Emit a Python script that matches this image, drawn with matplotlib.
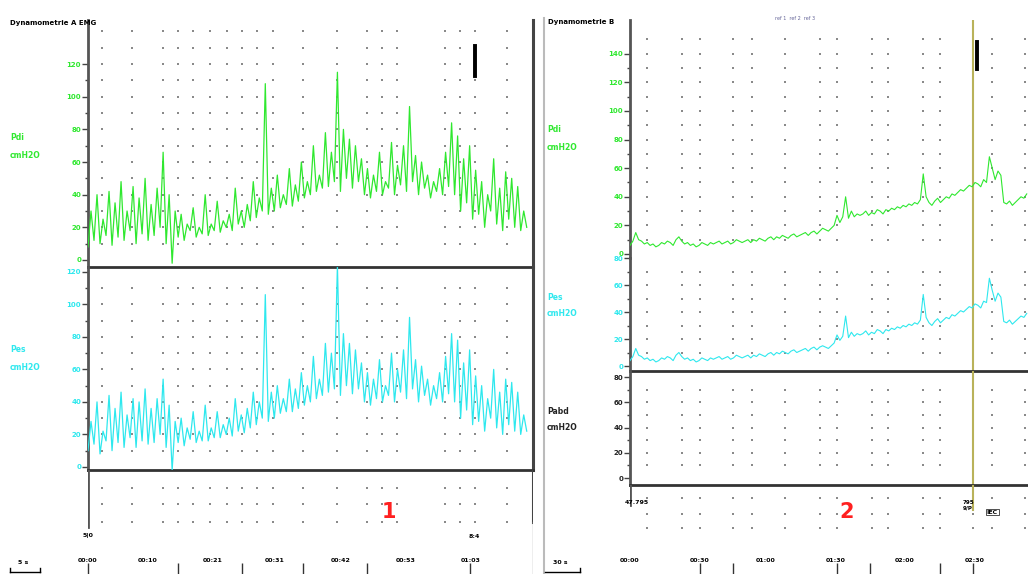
import numpy as np
import matplotlib
matplotlib.use("Agg")
import matplotlib.pyplot as plt
from matplotlib.lines import Line2D

W, H = 1028, 574

# ---- data ----
# left recording: 0.5 s samples
dt_left = 0.5
pdi_left = [8, 30, 12, 40, 10, 25, 15, 42, 9, 35,
            14, 48, 12, 30, 18, 45, 10, 38, 16, 50,
            12, 34, 15, 44, 20, 66, 10, 40, -2, 30,
            14, 28, 12, 22, 18, 32, 14, 20, 16, 40,
            15, 22, 18, 36, 17, 24, 20, 28, 18, 44,
            22, 30, 20, 34, 24, 48, 26, 38, 30, 108,
            28, 44, 30, 52, 32, 40, 34, 56, 33, 46,
            36, 60, 38, 48, 40, 70, 42, 52, 44, 78,
            45, 66, 48, 115, 42, 80, 50, 74, 44, 70,
            48, 62, 40, 56, 38, 52, 42, 66, 40, 48,
            44, 72, 40, 58, 46, 70, 42, 94, 48, 64,
            40, 60, 44, 52, 38, 48, 42, 56, 40, 66,
            45, 84, 40, 76, 30, 62, 35, 70, 25, 55,
            28, 48, 20, 40, 30, 62, 22, 44, 18, 54,
            25, 50, 20, 45, 18, 30, 20]
pes_left = [10, 28, 14, 40, 8, 22, 16, 44, 10, 36,
            15, 46, 12, 32, 18, 42, 12, 40, 16, 48,
            14, 36, 15, 42, 20, 54, 12, 38, -2, 28,
            15, 30, 13, 24, 17, 34, 15, 22, 16, 38,
            16, 24, 18, 34, 18, 26, 20, 30, 19, 42,
            22, 32, 21, 36, 24, 46, 26, 40, 30, 106,
            28, 46, 30, 50, 33, 42, 34, 54, 34, 48,
            36, 58, 38, 50, 40, 68, 42, 54, 44, 76,
            46, 70, 48, 124, 44, 82, 50, 76, 45, 72,
            48, 64, 40, 58, 38, 54, 42, 66, 40, 50,
            44, 70, 40, 60, 46, 72, 42, 92, 48, 66,
            40, 62, 44, 54, 38, 50, 42, 58, 40, 68,
            45, 82, 40, 78, 30, 64, 35, 72, 26, 56,
            28, 50, 22, 42, 30, 60, 24, 46, 20, 54,
            26, 52, 22, 46, 20, 32, 22]

# right recording: 1.25 s samples
dt_right = 1.25
pdi_right = [6, 9, 15, 10, 9, 7, 8, 6, 7, 5,
             6, 8, 7, 9, 8, 6, 10, 12, 9, 7,
             8, 6, 7, 5, 6, 8, 7, 6, 8, 7,
             8, 9, 7, 8, 9, 7, 8, 10, 9, 8,
             9, 10, 8, 10, 9, 11, 10, 9, 11, 12,
             10, 12, 11, 13, 12, 11, 13, 14, 12, 13,
             14, 15, 13, 15, 16, 14, 16, 18, 17, 16,
             18, 20, 27, 22, 26, 40, 25, 30, 26, 28,
             27, 28, 30, 27, 29, 28, 31, 30, 28, 31,
             30, 32, 31, 33, 32, 34, 33, 35, 34, 36,
             35, 38, 56, 40, 36, 34, 37, 39, 36, 38,
             40, 39, 42, 41, 43, 45, 44, 46, 48, 47,
             50, 49, 47, 52, 50, 68, 60, 52, 58, 55,
             36, 35, 37, 34, 36, 38, 40, 39, 42]
pes_right = [4, 7, 13, 8, 7, 5, 6, 4, 5, 3,
             4, 6, 5, 7, 6, 4, 8, 10, 7, 5,
             6, 4, 5, 3, 4, 6, 5, 4, 6, 5,
             6, 7, 5, 6, 7, 5, 6, 8, 7, 6,
             7, 8, 6, 8, 7, 9, 8, 7, 9, 10,
             8, 10, 9, 11, 10, 9, 11, 12, 10, 11,
             12, 13, 11, 13, 14, 12, 14, 15, 14, 13,
             15, 17, 23, 19, 22, 37, 21, 25, 22, 24,
             23, 24, 26, 23, 25, 24, 27, 26, 24, 27,
             26, 28, 27, 29, 28, 30, 29, 31, 30, 32,
             31, 34, 53, 36, 32, 30, 33, 35, 32, 34,
             36, 35, 38, 37, 39, 41, 40, 42, 44, 43,
             46, 45, 43, 48, 47, 65, 56, 48, 54, 51,
             33, 32, 34, 31, 33, 35, 37, 36, 39]

left_time_labels = ["00:00", "00:10", "00:21", "00:31", "00:42", "00:53", "01:03"]
left_time_pos = [0, 10, 20.8, 31.1, 42, 52.8, 63.6]
left_tick_pos = [0, 15, 25.6, 35.8, 46.4, 63.6]
left_dot_cols = [2.3, 7.3, 12.5, 15, 17.5, 20.3, 23.1, 25.6, 28.1, 30.8,
                 35.8, 41.4, 46.4, 48.9, 51.4, 59.4, 61.9, 64.4, 69.7]
left_event_t = 64.4

right_time_labels = ["00:00", "00:30", "01:00", "01:30", "02:00", "02:30"]
right_time_pos = [0, 30.4, 59, 89.6, 119.6, 150]
right_tick_pos = [30.4, 44.8, 90, 104.3, 134.8, 149]
right_dot_cols = [7.4, 22.6, 30.4, 44.8, 53, 67.4, 82.6, 90, 105.2, 112.2,
                  127.4, 134.8, 149.1, 157.4, 171.7]
right_event_t = 151
cursor_t = 149

GREEN = "#2fe82f"
CYAN = "#2ee8ee"
DOT = "#8a8a8a"
CURSOR = "#b9b25a"


def rect(x0, y0, x1, y1):
    return [x0 / W, 1 - y1 / H, (x1 - x0) / W, (y1 - y0) / H]


def fline(x0, y0, x1, y1, **kw):
    fig.add_artist(Line2D([x0 / W, x1 / W], [1 - y0 / H, 1 - y1 / H], **kw))


def ftext(x, y, s, **kw):
    fig.text(x / W, 1 - y / H, s, **kw)


def trace_axes(r, xlim, ylim, ticks, color, bottom_line=True, right_line=False):
    ax = fig.add_axes(rect(*r))
    ax.patch.set_alpha(0)
    ax.set_xlim(*xlim)
    ax.set_ylim(*ylim)
    ax.set_xticks([])
    ax.spines["top"].set_visible(False)
    ax.spines["right"].set_visible(right_line)
    ax.spines["bottom"].set_visible(bottom_line)
    ax.spines["left"].set_color("#555555")
    ax.spines["left"].set_linewidth(2)
    ax.spines["bottom"].set_color("#333333")
    ax.spines["bottom"].set_linewidth(2)
    ax.spines["right"].set_color("#444444")
    ax.spines["right"].set_linewidth(2.2)
    ax.set_yticks(ticks)
    ax.set_yticks([t + 10 for t in ticks[:-1]], minor=True)
    ax.tick_params(axis="y", which="major", direction="out", length=4, width=1,
                   color="#444444", labelcolor=color, labelsize=5, pad=1)
    ax.tick_params(axis="y", which="minor", direction="out", length=2, width=1,
                   color="#444444")
    for lab in ax.get_yticklabels():
        lab.set_fontweight("bold")
    return ax


def dots(ax, cols, rows):
    X, Y = np.meshgrid(cols, rows)
    ax.scatter(X.ravel(), Y.ravel(), s=1.6, c=DOT, marker="s", lw=0, zorder=1)


fig = plt.figure(figsize=(W / 100, H / 100), dpi=100)
fig.patch.set_facecolor("white")

t_left = np.arange(len(pdi_left)) * dt_left
t_right = np.arange(len(pdi_right)) * dt_right
xl = (0, (533 - 88) / 6.01)
xr = (0, (1028 - 630) / 2.3)

# ---- left recording ----
ax1 = trace_axes((88, 20, 533, 267), xl, (-4.3, 147), [0, 20, 40, 60, 80, 100, 120], GREEN,
                 right_line=True)
dots(ax1, left_dot_cols, np.arange(10, 150, 10))
ax1.plot(t_left, pdi_left, color=GREEN, lw=0.9, zorder=3)
ax1.plot([left_event_t, left_event_t], [113, 131], color="black", lw=2.8, zorder=4)

ax2 = trace_axes((88, 267, 533, 470), xl, (-1.9, 123), [0, 20, 40, 60, 80, 100, 120], CYAN,
                 right_line=True)
dots(ax2, left_dot_cols, np.arange(10, 120, 10))
ax2.plot(t_left, pes_left, color=CYAN, lw=0.9, zorder=3)

ax3 = fig.add_axes(rect(88, 470, 533, 574))
ax3.patch.set_alpha(0)
ax3.set_xlim(*xl)
ax3.set_ylim(574, 470)
for s in ax3.spines.values():
    s.set_visible(False)
ax3.set_yticks([])
ax3.set_xticks(left_tick_pos)
ax3.tick_params(axis="x", direction="in", length=8, width=1, color="#333333", labelbottom=False)
dots(ax3, left_dot_cols, [488, 504, 522])
ax3.axvline(0, ymin=(574 - 527) / 104, ymax=1, color="#555555", lw=2)
ax3.axvline(xl[1], ymin=(574 - 522) / 104, ymax=1, color="#444444", lw=2.2)
ax3.axvline(xl[1], ymin=0, ymax=(574 - 522) / 104, color="#aaaaaa", lw=1)
for p, lab in zip(left_time_pos, left_time_labels):
    ax3.text(p, 560, lab, ha="center", va="center", fontsize=4.5, fontweight="bold")
ax3.text(50, 512, "1", color="#ff2020", fontsize=15, fontweight="bold", ha="center", va="center")
ax3.text(0, 536, "5|0", fontsize=4.5, fontweight="bold", ha="center", va="center")
ax3.text(64.2, 536, "8:4", fontsize=4.5, fontweight="bold", ha="center", va="center")

ftext(10, 23, "Dynamometrie A EMG", fontsize=5, fontweight="bold", va="center")
ftext(10, 138, "Pdi", color=GREEN, fontsize=5.5, fontweight="bold", va="center")
ftext(10, 155, "cmH2O", color=GREEN, fontsize=5.5, fontweight="bold", va="center")
ftext(10, 350, "Pes", color=CYAN, fontsize=5.5, fontweight="bold", va="center")
ftext(10, 368, "cmH2O", color=CYAN, fontsize=5.5, fontweight="bold", va="center")
fline(10, 572, 40, 572, color="black", lw=1)
fline(10, 568, 10, 572, color="black", lw=1)
fline(40, 568, 40, 572, color="black", lw=1)
ftext(18, 563, "5 s", fontsize=4.5, fontweight="bold", va="center")

# ---- right recording ----
fline(544, 18, 544, 574, color="#bbbbbb", lw=1.5)

ax4 = trace_axes((630, 20, 1028, 258), xr, (-2.8, 163.6), [0, 20, 40, 60, 80, 100, 120, 140],
                 GREEN, bottom_line=False)
dots(ax4, right_dot_cols, np.arange(10, 160, 10))
ax4.plot(t_right, pdi_right, color=GREEN, lw=0.8, zorder=3)
ax4.plot([right_event_t, right_event_t], [129, 148], color="black", lw=2.8, zorder=4)
ax4.axvline(cursor_t, color=CURSOR, lw=1.5, zorder=2)

ax5 = trace_axes((630, 258, 1028, 371), xr, (-3.7, 80), [0, 20, 40, 60, 80], CYAN)
dots(ax5, right_dot_cols, np.arange(10, 80, 10))
ax5.plot(t_right, pes_right, color=CYAN, lw=0.8, zorder=3)
ax5.axvline(cursor_t, color=CURSOR, lw=1.5, zorder=2)

ax6 = trace_axes((630, 371, 1028, 485), xr, (-5.5, 85), [0, 20, 40, 60, 80], "#222222")
dots(ax6, right_dot_cols, np.arange(10, 80, 10))
ax6.axvline(cursor_t, color=CURSOR, lw=1.5, zorder=2)

ax7 = fig.add_axes(rect(630, 485, 1028, 574))
ax7.patch.set_alpha(0)
ax7.set_xlim(*xr)
ax7.set_ylim(574, 485)
for s in ax7.spines.values():
    s.set_visible(False)
ax7.set_yticks([])
ax7.set_xticks(right_tick_pos)
ax7.tick_params(axis="x", direction="in", length=8, width=1, color="#333333", labelbottom=False)
dots(ax7, right_dot_cols, [498, 514, 528])
ax7.axvline(0, ymin=(574 - 505) / 89, ymax=1, color="#555555", lw=2)
ax7.axvline(cursor_t, ymin=(574 - 510) / 89, ymax=1, color=CURSOR, lw=1.5)
for p, lab in zip(right_time_pos, right_time_labels):
    ax7.text(p, 560, lab, ha="center", va="center", fontsize=4.5, fontweight="bold")
ax7.text(94, 512, "2", color="#ff2020", fontsize=15, fontweight="bold", ha="center", va="center")
ax7.text(3, 502, "47.795", fontsize=4.5, fontweight="bold", ha="center", va="center")
ax7.text(147, 505, "795\n9/P", fontsize=4, fontweight="bold", ha="center", va="center")
ax7.text(155, 512, "IEC", fontsize=4.5, fontweight="bold", va="center",
         bbox=dict(boxstyle="square,pad=0.15", fc="white", ec="#333333", lw=0.6))

ftext(548, 22, "Dynamometrie B", fontsize=5, fontweight="bold", va="center")
ftext(775, 18, "ref 1  ref 2  ref 3", fontsize=3.5, color="#666699", va="center")
ftext(547, 130, "Pdi", color=GREEN, fontsize=5.5, fontweight="bold", va="center")
ftext(547, 147, "cmH2O", color=GREEN, fontsize=5.5, fontweight="bold", va="center")
ftext(547, 298, "Pes", color=CYAN, fontsize=5.5, fontweight="bold", va="center")
ftext(547, 313, "cmH2O", color=CYAN, fontsize=5.5, fontweight="bold", va="center")
ftext(547, 412, "Pabd", color="#222222", fontsize=5.5, fontweight="bold", va="center")
ftext(547, 427, "cmH2O", color="#222222", fontsize=5.5, fontweight="bold", va="center")
fline(545, 572, 580, 572, color="black", lw=1)
fline(580, 568, 580, 572, color="black", lw=1)
ftext(553, 563, "30 s", fontsize=4.5, fontweight="bold", va="center")

fig.savefig("out.png", dpi=100, facecolor="white")
